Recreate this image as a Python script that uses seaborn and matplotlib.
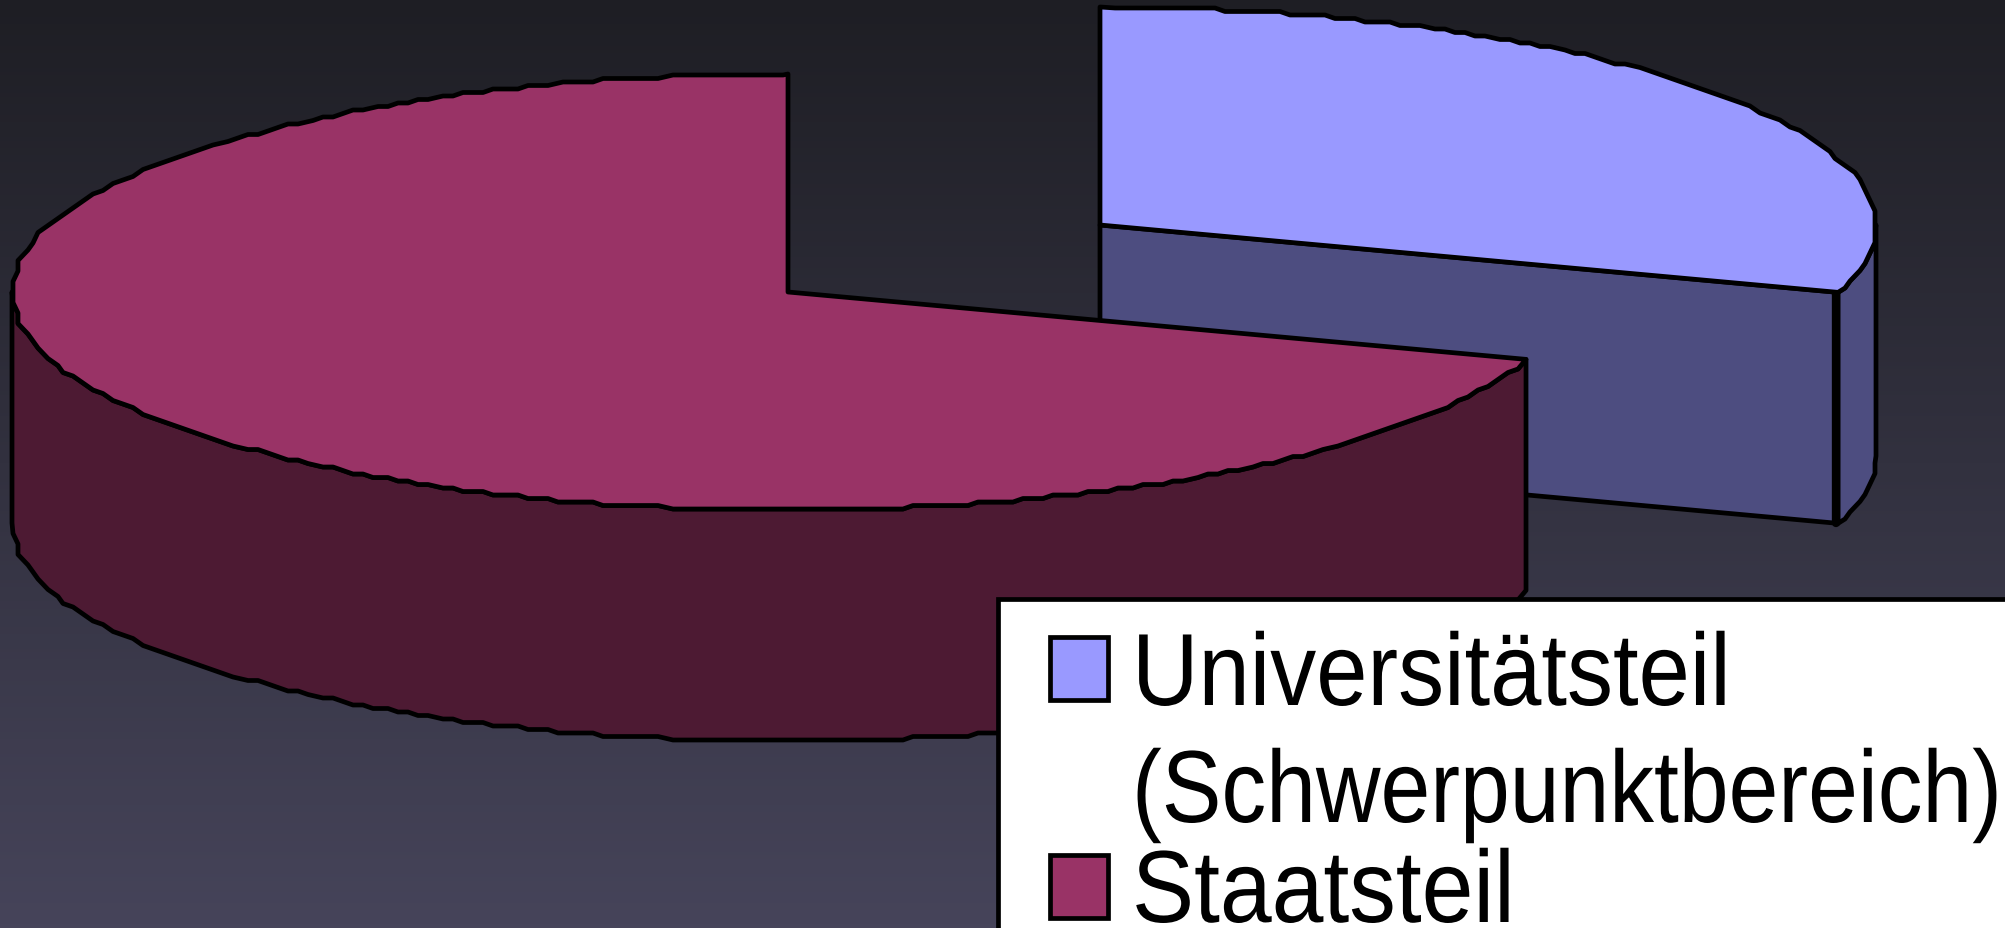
import numpy as np
import matplotlib
matplotlib.use("Agg")
import matplotlib.pyplot as plt
import matplotlib.patheffects as pe
from matplotlib.colors import ListedColormap
from matplotlib.patches import Rectangle
from matplotlib.transforms import Affine2D
import seaborn as sns

# values
labels = ["Universitätsteil", "(Schwerpunktbereich)", "Staatsteil"]
shares = [30, 70]
top_colors = ["#9999FF", "#993366"]
side_colors = ["#4D4D80", "#4D1A33"]

W, H = 2006, 929

sns.set_theme(style="white")
plt.rcParams["font.family"] = ["Liberation Sans", "DejaVu Sans"]

fig = plt.figure(figsize=(W / 100, H / 100), dpi=100)
ax = fig.add_axes([0, 0, 1, 1])
ax.set_xlim(0, W)
ax.set_ylim(H, 0)
ax.axis("off")

# background gradient
grad = sns.blend_palette(["#1E1E24", "#46445A"], 256)
ax.imshow(np.linspace(0, 1, 256).reshape(-1, 1), cmap=ListedColormap(grad),
          extent=[0, W, H, 0], aspect="auto", zorder=0)

RX, RY, DEPTH = 776, 218, 231
LW = 3.4
edge = dict(edgecolor="black", linewidth=LW, joinstyle="round")

# one jagged ellipse shared by all the slices: even arc spacing, snapped to a coarse grid
dense = np.radians(np.arange(-90, 360.01, 0.05))
arc = np.r_[0, np.cumsum(np.hypot(np.diff(RX * np.cos(dense)), np.diff(RY * np.sin(dense))))]
keep = np.searchsorted(arc, np.arange(0, arc[-1], 11))
rim_deg = np.degrees(dense[keep])
rim_x = np.round(RX * np.cos(dense[keep]) / 5) * 5
rim_y = np.round(RY * np.sin(dense[keep]) / 3.5) * 3.5


def rim(cx, cy, a0, a1, drop=0):
    inside = (rim_deg > a0 + 0.5) & (rim_deg < a1 - 0.5)
    x = np.r_[RX * np.cos(np.radians(a0)), rim_x[inside], RX * np.cos(np.radians(a1))]
    y = np.r_[RY * np.sin(np.radians(a0)), rim_y[inside], RY * np.sin(np.radians(a1))]
    return cx + x, cy - y + drop


# wedge angles from the shares, clockwise from 12 o'clock
blue_start = 90 - shares[0] * 3.6
red_end = 90 + shares[1] * 3.6
centres = [(1100, 226), (788, 293)]

# blue slice
cx, cy = centres[0]
ex = cx + RX * np.cos(np.radians(blue_start))
ey = cy - RY * np.sin(np.radians(blue_start))
ax.fill([cx, ex, ex, cx], [cy, ey, ey + DEPTH, cy + DEPTH], facecolor=side_colors[0], zorder=2, **edge)
x1, y1 = rim(cx, cy, blue_start, 0)
x2, y2 = rim(cx, cy, blue_start, 0, DEPTH)
ax.fill(np.r_[x1, x2[::-1]], np.r_[y1, y2[::-1]], facecolor=side_colors[0], zorder=2, **edge)
ax.plot([ex - 2, ex - 2], [ey, ey + DEPTH], color="black", lw=6, zorder=2.5)
x1, y1 = rim(cx, cy, blue_start, 90)
ax.fill(np.r_[cx, x1], np.r_[cy, y1], facecolor=top_colors[0], zorder=3, **edge)

# red slice
cx, cy = centres[1]
x1, y1 = rim(cx, cy, 180, red_end)
x2, y2 = rim(cx, cy, 180, red_end, DEPTH)
ax.fill(np.r_[x1, x2[::-1]], np.r_[y1, y2[::-1]], facecolor=side_colors[1], zorder=4, **edge)
x1, y1 = rim(cx, cy, 90, red_end)
ax.fill(np.r_[cx, x1], np.r_[cy, y1], facecolor=top_colors[1], zorder=5, **edge)


class TallText(pe.AbstractPathEffect):
    # the source legend text is condensed, stretch glyphs upward from the baseline
    def __init__(self, base_y, factor):
        super().__init__()
        self.base_y = base_y
        self.factor = factor

    def draw_path(self, renderer, gc, tpath, affine, rgbFace=None):
        stretch = Affine2D().translate(0, -self.base_y).scale(1, self.factor).translate(0, self.base_y)
        renderer.draw_path(gc, tpath, affine + stretch, rgbFace)


# legend box runs off the figure, as in the source
ax.add_patch(Rectangle((998, 600), 1100, 400, facecolor="white", edgecolor="black",
                       linewidth=LW, zorder=6))
for col, sw_y in zip(top_colors, [638, 856]):
    ax.add_patch(Rectangle((1050, sw_y), 58, 63, facecolor=col, edgecolor="black",
                           linewidth=LW, zorder=7))
for txt, base, size in zip(labels, [706, 823, 923], [66.3, 64.4, 67]):
    ax.text(1132, base, txt, fontsize=size, color="black", va="baseline", ha="left", zorder=7,
            path_effects=[TallText(H - base, 73.8 / size)])

fig.savefig("out.png", dpi=100)
